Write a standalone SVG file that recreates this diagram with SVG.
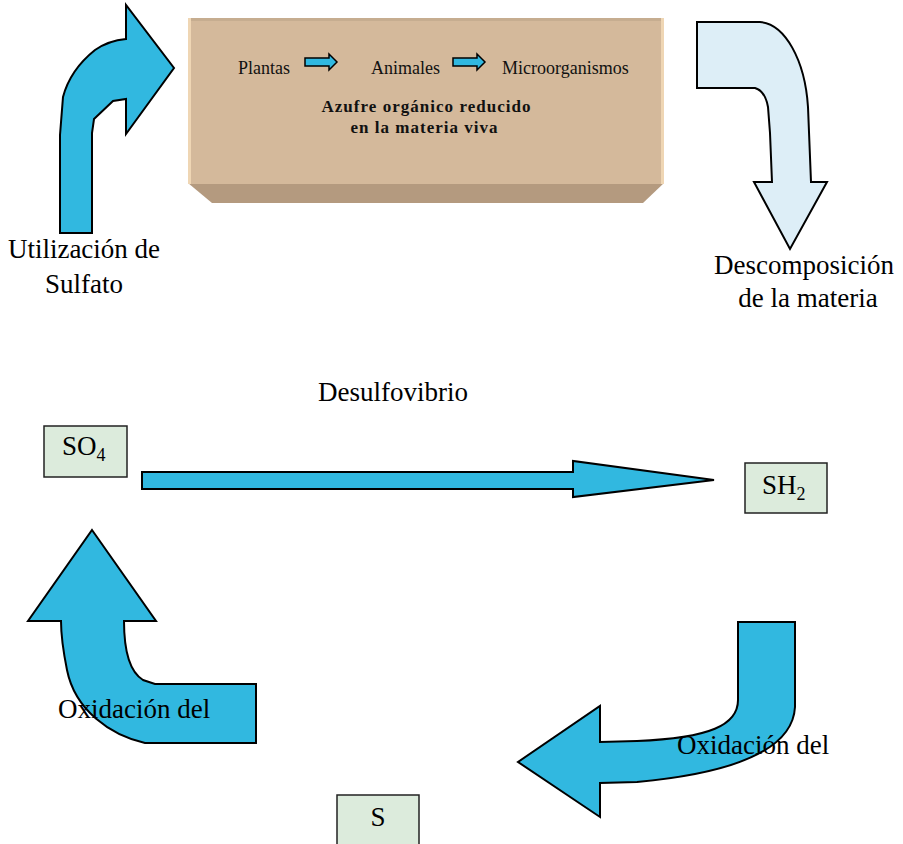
<svg xmlns="http://www.w3.org/2000/svg" width="903" height="844" viewBox="0 0 903 844">
<style>
  .t { font-family: "Liberation Serif", "Times New Roman", serif; fill: #000; }
  .big { font-size: 27px; }
  .small { font-size: 18px; fill: #111; }
  .bold { font-size: 17px; font-weight: bold; fill: #111; }
  .blue { fill: #31b8e0; stroke: #000; stroke-width: 2; stroke-linejoin: miter; }
  .light { fill: #ddeef7; stroke: #000; stroke-width: 2; }
  .node { fill: #dcebdc; stroke: #222; stroke-width: 1.5; }
</style>
<rect width="903" height="844" fill="#fff"/>

<g id="materia-viva">
  <polygon points="188,183 664,183 643,203 212,203" fill="#b49a7f"/>
  <rect x="188" y="18" width="476" height="166" fill="#d4b99b"/>
  <rect x="188" y="18" width="476" height="3" fill="#c6ad90"/>
  <rect x="188" y="18" width="3" height="166" fill="#efd6b4"/>
  <rect x="661" y="18" width="3" height="166" fill="#efd6b4"/>
  <text class="t small" x="238" y="74">Plantas</text>
  <text class="t small" x="371" y="74">Animales</text>
  <text class="t small" x="502" y="74">Microorganismos</text>
  <polygon class="blue" style="stroke-width:1.5" points="305,58 329,58 329,54 337,62 329,70 329,66 305,66"/>
  <polygon class="blue" style="stroke-width:1.5" points="453,58 477,58 477,54 485,62 477,70 477,66 453,66"/>
  <text class="t bold" x="426" y="112" text-anchor="middle" textLength="209" lengthAdjust="spacing">Azufre orgánico reducido</text>
  <text class="t bold" x="424" y="133" text-anchor="middle" textLength="147" lengthAdjust="spacing">en la materia viva</text>
</g>

<g id="connectors">
  <path id="arrow-utilizacion" class="blue" d="M60,233 L60,135 L63,97 C68,78 80,62 95,50 C105,43 115,40 126,39 L126,5 L174,68 L126,134 L126,99 L113,101 L94,119 L92,133 L92,233 Z"/>
  <path id="arrow-descomposicion" class="light" d="M697,22 L760,22 C785,24 805,60 808,107 L811,182 L827,182 L790,249 L754,182 L772,182 L770,133 L768,107 C766,96 762,90 755,88 L697,88 Z"/>
  <path id="arrow-desulfovibrio" class="blue" d="M142,472 L573,472 L573,461 L714,480 L573,497 L573,489 L142,489 Z"/>
  <path id="arrow-oxidacion-s" class="blue" d="M738,622 L795,622 L795,707 C793,745 745,772 637,782 L600,783 L600,817 L518,762 L600,706 L600,742 L637,741 C710,738 738,725 738,700 Z"/>
  <path id="arrow-oxidacion-so4" class="blue" d="M92,530 L156,621 L124,621 C124,650 130,672 143,680 L155,684 L256,684 L256,743 L145,743 C110,735 75,710 67,670 C63,650 61,635 61,621 L28,621 Z"/>
</g>

<g id="labels">
  <text class="t big" x="84" y="258" text-anchor="middle">Utilización de</text>
  <text class="t big" x="84" y="293" text-anchor="middle">Sulfato</text>
  <text class="t big" x="804" y="274" text-anchor="middle">Descomposición</text>
  <text class="t big" x="808" y="307" text-anchor="middle">de la materia</text>
  <text class="t big" x="318" y="401">Desulfovibrio</text>
  <text class="t big" x="58" y="718">Oxidación del</text>
  <text class="t big" x="677" y="754">Oxidación del</text>
</g>

<g id="node-so4">
  <rect class="node" x="44" y="426" width="83" height="51"/>
  <text class="t big" x="62" y="455">SO<tspan font-size="18" dy="6">4</tspan></text>
</g>
<g id="node-sh2">
  <rect class="node" x="745" y="463" width="82" height="50"/>
  <text class="t big" x="762" y="494">SH<tspan font-size="18" dy="6">2</tspan></text>
</g>
<g id="node-s">
  <rect class="node" x="337" y="795" width="82" height="52"/>
  <text class="t big" x="378" y="826" text-anchor="middle">S</text>
</g>
</svg>
